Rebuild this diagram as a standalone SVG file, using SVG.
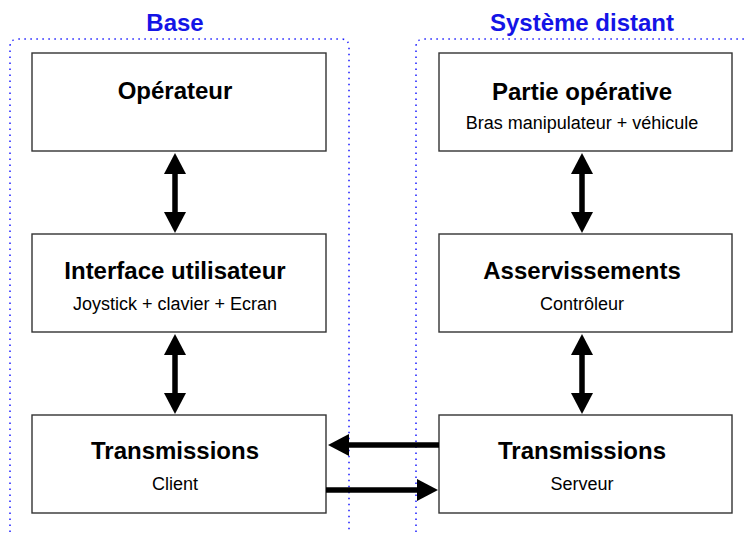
<svg xmlns="http://www.w3.org/2000/svg" width="747" height="533" viewBox="0 0 747 533">
<style>
.box{fill:#fff;stroke:#333;stroke-width:1.4}
.t{font-family:"Liberation Sans",Arial,sans-serif;font-weight:bold;font-size:24px;fill:#000;text-anchor:middle}
.s{font-family:"Liberation Sans",Arial,sans-serif;font-size:18px;fill:#000;text-anchor:middle}
.h{font-family:"Liberation Sans",Arial,sans-serif;font-weight:bold;font-size:24px;fill:#1414e6;text-anchor:middle}
.zone{fill:none;stroke:#1a1aff;stroke-width:1.5;stroke-dasharray:1.5 4.5}
.arr{stroke:#000;stroke-width:5.5;fill:none}
</style>
<defs>
<marker id="ah" markerUnits="userSpaceOnUse" markerWidth="21" markerHeight="22" viewBox="0 0 21 22" refX="1" refY="11" orient="auto-start-reverse">
<path d="M0,0 L21,11 L0,22 z" fill="#000"/>
</marker>
</defs>
<g id="zones">
<path class="zone" d="M10,532 V47 Q10,39 18,39 H341 Q349,39 349,47 V532"/>
<path class="zone" d="M416,532 V47 Q416,39 424,39 H747"/>
<text class="h" x="175" y="31">Base</text>
<text class="h" x="582" y="31">Système distant</text>
</g>
<g id="operateur">
<rect class="box" x="32" y="53" width="294" height="98"/>
<text class="t" x="175" y="99">Opérateur</text>
</g>
<g id="interface">
<rect class="box" x="32" y="234" width="294" height="98"/>
<text class="t" x="175" y="279">Interface utilisateur</text>
<text class="s" x="175" y="310">Joystick + clavier + Ecran</text>
</g>
<g id="transmissions-client">
<rect class="box" x="32" y="415" width="294" height="98"/>
<text class="t" x="175" y="459">Transmissions</text>
<text class="s" x="175" y="490">Client</text>
</g>
<g id="partie-operative">
<rect class="box" x="439" y="53" width="293" height="98"/>
<text class="t" x="582" y="100">Partie opérative</text>
<text class="s" x="582" y="129">Bras manipulateur + véhicule</text>
</g>
<g id="asservissements">
<rect class="box" x="439" y="234" width="293" height="98"/>
<text class="t" x="582" y="279">Asservissements</text>
<text class="s" x="582" y="310">Contrôleur</text>
</g>
<g id="transmissions-serveur">
<rect class="box" x="439" y="415" width="293" height="98"/>
<text class="t" x="582" y="459">Transmissions</text>
<text class="s" x="582" y="490">Serveur</text>
</g>
<g id="connectors">
<line class="arr" x1="175" y1="173" x2="175" y2="213" marker-start="url(#ah)" marker-end="url(#ah)"/>
<line class="arr" x1="175" y1="354" x2="175" y2="394" marker-start="url(#ah)" marker-end="url(#ah)"/>
<line class="arr" x1="582" y1="173" x2="582" y2="213" marker-start="url(#ah)" marker-end="url(#ah)"/>
<line class="arr" x1="582" y1="354" x2="582" y2="394" marker-start="url(#ah)" marker-end="url(#ah)"/>
<line class="arr" x1="439" y1="445" x2="348" y2="445" marker-end="url(#ah)"/>
<line class="arr" x1="326" y1="490" x2="418" y2="490" marker-end="url(#ah)"/>
</g>
</svg>
